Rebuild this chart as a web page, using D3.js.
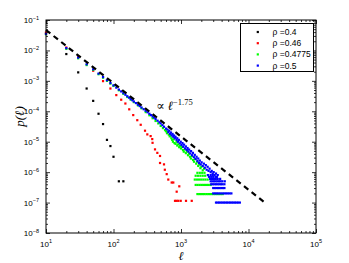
<!DOCTYPE html>
<html>
<head>
<meta charset="utf-8">
<script src="https://cdnjs.cloudflare.com/ajax/libs/d3/7.8.5/d3.min.js"></script>
<style>
  body { margin: 0; background: #fff; }
  svg { display: block; }
</style>
</head>
<body>
<div id="chart"></div>
<script>
// series, [l, p(l)]
const rho04 = [
  [10, 0.036], [20, 0.0076], [30, 0.0019], [40, 5.6e-4], [50, 2.2e-4], [60, 8.3e-5],
  [70, 3.8e-5], [80, 1.15e-5], [90, 7.2e-6], [100, 3.2e-6], [120, 5e-7], [140, 5e-7]
];

const rho046 = [
  [10, 0.039], [20, 0.0125], [30, 0.0062], [50, 0.00215], [70, 9.8e-4], [90, 5.6e-4],
  [110, 3.4e-4], [130, 2.4e-4], [150, 1.8e-4], [171, 1.16e-4], [196, 7.5e-5], [225, 5.1e-5],
  [253, 3.6e-5], [293, 2.3e-5], [317, 1.74e-5], [355, 1.53e-5], [375, 1.22e-5], [379, 9.2e-6],
  [412, 5.6e-6], [446, 4.3e-6], [489, 3.4e-6], [489, 2.0e-6], [560, 1.8e-6], [576, 1.2e-6],
  [614, 8.6e-7], [648, 5.7e-7], [728, 4.56e-7], [769, 4.56e-7], [943, 3.42e-7], [863, 2.28e-7],
  [815, 1.14e-7], [860, 1.14e-7], [912, 1.14e-7], [990, 1.14e-7], [1186, 1.14e-7], [1442, 1.14e-7]
];

const rho04775 = [
  [10, 0.034], [20, 0.0112], [30, 0.0055], [40, 0.0033], [50, 0.0023], [60, 0.00165],
  [70, 0.00127], [80, 0.001], [90, 8.1e-4], [100, 6.8e-4], [120, 4.9e-4], [140, 3.75e-4],
  [160, 2.95e-4], [180, 2.4e-4], [200, 2.0e-4], [230, 1.56e-4], [260, 1.25e-4], [300, 9.4e-5],
  [340, 7.4e-5], [380, 5.9e-5], [420, 4.8e-5], [460, 4.0e-5], [500, 3.3e-5], [540, 2.8e-5],
  [580, 2.4e-5], [600, 2.2e-5], [620, 1.9e-5], [640, 2.1e-5], [660, 1.7e-5], [680, 1.5e-5],
  [700, 1.6e-5], [720, 1.3e-5], [740, 1.15e-5], [760, 1.0e-5], [780, 1.2e-5], [800, 9e-6],
  [830, 8.5e-6], [860, 1.0e-5], [880, 7.5e-6], [910, 8.2e-6], [940, 6.6e-6], [970, 7.3e-6],
  [1000, 6.0e-6], [1030, 6.7e-6], [1070, 5.3e-6], [1100, 4.7e-6], [1140, 5.6e-6], [1180, 4.2e-6],
  [1220, 4.8e-6], [1270, 3.6e-6], [1310, 4.1e-6], [1360, 3.2e-6], [1400, 2.8e-6], [1450, 3.4e-6],
  [1510, 2.5e-6], [1560, 2.2e-6], [1620, 2.7e-6], [1680, 1.9e-6], [1740, 2.2e-6], [1800, 1.6e-6],
  [1870, 1.8e-6], [1940, 1.35e-6], [2000, 1.5e-6], [2100, 1.15e-6], [2200, 1.3e-6]
];

const rho05 = [
  [10, 0.035], [20, 0.0119], [30, 0.0058], [40, 0.0035], [50, 0.0024], [60, 0.00173],
  [70, 0.00133], [80, 0.00105], [90, 8.5e-4], [100, 7.1e-4], [110, 6.0e-4], [120, 5.15e-4],
  [130, 4.5e-4], [140, 3.94e-4], [150, 3.5e-4], [160, 3.12e-4], [170, 2.8e-4], [180, 2.53e-4],
  [190, 2.31e-4], [200, 2.1e-4], [215, 1.86e-4], [230, 1.65e-4], [245, 1.48e-4], [260, 1.33e-4],
  [280, 1.17e-4], [300, 1.04e-4], [320, 9.3e-5], [340, 8.3e-5], [360, 7.5e-5], [380, 6.8e-5],
  [400, 6.2e-5], [420, 5.6e-5], [450, 4.9e-5], [480, 4.35e-5], [500, 4.0e-5], [530, 3.5e-5],
  [560, 3.1e-5], [600, 2.7e-5], [630, 2.5e-5], [650, 2.05e-5], [670, 2.3e-5], [690, 1.8e-5],
  [710, 2.0e-5], [730, 1.6e-5], [750, 1.8e-5], [770, 1.45e-5], [790, 1.6e-5], [810, 1.3e-5],
  [830, 1.45e-5], [860, 1.15e-5], [880, 1.3e-5], [900, 1.0e-5], [930, 1.15e-5], [960, 8.8e-6],
  [990, 1.0e-5], [1020, 7.8e-6], [1050, 9.0e-6], [1080, 6.8e-6], [1110, 8.0e-6], [1150, 6.0e-6],
  [1180, 7.0e-6], [1220, 5.3e-6], [1250, 6.2e-6], [1290, 4.7e-6], [1320, 5.5e-6], [1370, 4.1e-6],
  [1410, 4.9e-6], [1460, 3.6e-6], [1500, 4.3e-6], [1550, 3.1e-6], [1600, 3.7e-6], [1650, 2.7e-6],
  [1700, 3.2e-6], [1750, 2.3e-6], [1800, 2.8e-6], [1850, 2.0e-6], [1900, 2.4e-6], [1960, 1.8e-6],
  [2020, 2.1e-6], [2100, 1.6e-6], [2180, 1.9e-6], [2250, 1.4e-6], [2330, 1.7e-6], [2400, 1.2e-6],
  [2480, 1.5e-6], [2560, 1.1e-6], [2650, 1.3e-6], [2750, 1.0e-6], [2850, 1.1e-6], [2950, 9e-7],
  [3050, 1.0e-6], [3150, 8e-7], [3300, 9e-7], [3400, 7e-7], [3500, 8e-7]
];

// tails with only a few counts: rows at k / N
const rho04775RowLevels = [1.9e-7, 3.8e-7, 5.7e-7, 7.6e-7, 9.5e-7];
const rho04775RowL = [
  [1750, 1860, 1980, 2110, 2240, 2380, 2530, 2690, 2860, 3040, 3230, 3440, 3660, 3900, 4150],
  [1650, 1760, 1880, 2000, 2130, 2270, 2420, 2580, 2750],
  [1600, 1720, 1850, 1990, 2140, 2300, 2480],
  [1650, 1790, 1940, 2100, 2280],
  [1750, 1900, 2060, 2230]
];

const rho05RowLevels = [1e-7, 2e-7, 3e-7, 4e-7, 5e-7, 6e-7, 7e-7, 8e-7];
const rho05RowL = [
  [3300, 3480, 3670, 3870, 4090, 4310, 4550, 4800, 5070, 5350, 5640, 5950, 6280, 6630, 7000, 7450],
  [3000, 3200, 3400, 3620, 3850, 4100, 4360, 4640, 4940, 5250, 5580],
  [3000, 3170, 3350, 3540, 3740, 3950, 4170, 4400],
  [2800, 2960, 3130, 3310, 3500, 3700, 3910, 4130, 4400],
  [2750, 2910, 3080, 3260, 3450, 3650, 3860, 4100, 4450],
  [2700, 2880, 3070, 3280, 3500, 3800],
  [2600, 2800, 3000, 3250],
  [2500, 2750, 2950]
];

// guide line p ~ l^-1.75
const fitAmp = 2.64;
const fitExp = -1.75;
const fitRange = [10, 18600];
const fitLabelAt = [430, 1.1e-4];

const legendLabels = ["ρ =0.4", "ρ =0.46", "ρ =0.4775", "ρ =0.5"];
const colors = ["#000000", "#ff0000", "#00ff00", "#0000ff"];
const xDecades = [1, 2, 3, 4, 5];
const yDecades = [-1, -2, -3, -4, -5, -6, -7, -8];

const withRows = (pts, levels, rows) =>
  pts.concat(rows.flatMap((ls, i) => ls.map((l) => [l, levels[i]])));

const series = [
  rho04,
  rho046,
  withRows(rho04775, rho04775RowLevels, rho04775RowL),
  withRows(rho05, rho05RowLevels, rho05RowL)
];

// Chart dimensions
const W = 349, H = 263;
const margin = { top: 20, right: 33, bottom: 30, left: 46 };
const width = W - margin.left - margin.right;
const height = H - margin.top - margin.bottom;

const svg = d3.select("#chart").append("svg").attr("width", W).attr("height", H);
const g = svg.append("g").attr("transform", `translate(${margin.left},${margin.top})`);

// Scales
const x = d3.scaleLog().domain([10, 1e5]).range([0, width]);
const y = d3.scaleLog().domain([1e-8, 1e-1]).range([height, 0]);

const minorX = [];
xDecades.slice(0, -1).forEach((e) => { for (let k = 2; k < 10; k++) minorX.push(k * Math.pow(10, e)); });
const minorY = [];
yDecades.slice(1).forEach((e) => { for (let k = 2; k < 10; k++) minorY.push(k * Math.pow(10, e)); });
const majorX = xDecades.map((e) => Math.pow(10, e));
const majorY = yDecades.map((e) => Math.pow(10, e));

// Axes: ticks point inward on all four sides
const tickAxis = (axisFn, scale, values, size, transform) => {
  const a = g.append("g").attr("transform", transform || null)
    .call(axisFn(scale).tickValues(values).tickSize(-size).tickFormat(""));
  a.select(".domain").remove();
  a.selectAll("line").attr("stroke", "#000").attr("stroke-width", 0.8);
};
tickAxis(d3.axisBottom, x, majorX, 4, `translate(0,${height})`);
tickAxis(d3.axisBottom, x, minorX, 2, `translate(0,${height})`);
tickAxis(d3.axisTop, x, majorX, 4);
tickAxis(d3.axisTop, x, minorX, 2);
tickAxis(d3.axisLeft, y, majorY, 4);
tickAxis(d3.axisLeft, y, minorY, 2);
tickAxis(d3.axisRight, y, majorY, 4, `translate(${width},0)`);
tickAxis(d3.axisRight, y, minorY, 2, `translate(${width},0)`);

// Tick labels with superscripts
const labelFont = "'Liberation Sans', Arial, sans-serif";
xDecades.forEach((e) => {
  const t = g.append("text")
    .attr("x", x(Math.pow(10, e)))
    .attr("y", height + 13.5)
    .attr("text-anchor", "middle")
    .attr("font-family", labelFont)
    .attr("font-size", 8)
    .text("10");
  t.append("tspan").attr("font-size", 5.5).attr("dy", -3.5).text(e);
});
yDecades.forEach((e) => {
  const t = g.append("text")
    .attr("x", -7)
    .attr("y", y(Math.pow(10, e)) + 3)
    .attr("text-anchor", "end")
    .attr("font-family", labelFont)
    .attr("font-size", 8)
    .text("10");
  t.append("tspan").attr("font-size", 5.5).attr("dy", -3.5).text("−" + -e);
});

// Points
series.forEach((pts, i) => {
  g.append("g").selectAll("rect").data(pts).join("rect")
    .attr("x", (d) => x(d[0]) - 1.1)
    .attr("y", (d) => y(d[1]) - 1.1)
    .attr("width", 2.2)
    .attr("height", 2.2)
    .attr("fill", colors[i]);
});

// Power-law guide
const line = d3.line().x((d) => x(d)).y((d) => y(fitAmp * Math.pow(d, fitExp)));
g.append("path")
  .datum(fitRange)
  .attr("fill", "none")
  .attr("stroke", "#000")
  .attr("stroke-width", 2.2)
  .attr("stroke-dasharray", "5.5,4.2")
  .attr("d", line);

// Frame
g.append("rect")
  .attr("width", width).attr("height", height)
  .attr("fill", "none").attr("stroke", "#000").attr("stroke-width", 1);

// Annotation
const mathFont = "'Liberation Serif', 'DejaVu Serif', serif";
const ann = g.append("text")
  .attr("x", x(fitLabelAt[0])).attr("y", y(fitLabelAt[1]))
  .attr("font-family", mathFont)
  .attr("font-size", 12.5);
ann.append("tspan").text("∝ ");
ann.append("tspan").attr("font-style", "italic").text("ℓ");
ann.append("tspan").attr("font-size", 8.5).attr("dy", -5.5).text("−1.75");

// Axis titles
svg.append("text")
  .attr("transform", `translate(24,${margin.top + height / 2 - 10}) rotate(-90)`)
  .attr("text-anchor", "middle")
  .attr("font-family", mathFont)
  .attr("font-style", "italic")
  .attr("font-size", 13)
  .text("p(ℓ)");
svg.append("text")
  .attr("x", margin.left + width / 2)
  .attr("y", 260)
  .attr("text-anchor", "middle")
  .attr("font-family", mathFont)
  .attr("font-style", "italic")
  .attr("font-size", 12)
  .text("ℓ");

// Legend
const legend = g.append("g").attr("transform", "translate(194.5,3.5)");
legend.append("rect")
  .attr("width", 73).attr("height", 48)
  .attr("fill", "#fff").attr("stroke", "#000").attr("stroke-width", 1);
legendLabels.forEach((lab, i) => {
  const ry = 8.5 + i * 11.2;
  legend.append("rect")
    .attr("x", 16.2).attr("y", ry - 1.1)
    .attr("width", 2.2).attr("height", 2.2)
    .attr("fill", colors[i]);
  legend.append("text")
    .attr("x", 32).attr("y", ry + 3)
    .attr("font-family", labelFont)
    .attr("font-size", 8.5)
    .text(lab);
});
</script>
</body>
</html>
